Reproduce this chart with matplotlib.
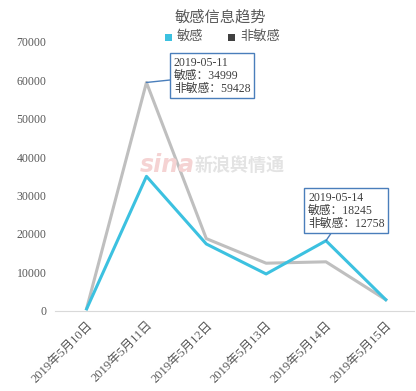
import matplotlib.pyplot as plt
from matplotlib.patches import Rectangle

plt.rcParams['font.family'] = ['Liberation Serif', 'Noto Sans CJK SC']

# data
dates = ['2019年5月10日', '2019年5月11日', '2019年5月12日',
         '2019年5月13日', '2019年5月14日', '2019年5月15日']
sensitive = [500, 34999, 17400, 9600, 18245, 2900]
non_sensitive = [600, 59428, 18800, 12400, 12758, 2900]
yticks = [0, 10000, 20000, 30000, 40000, 50000, 60000, 70000]

fig = plt.figure(figsize=(4.16, 3.91), dpi=100)
ax = fig.add_axes([0.132, 0.205, 0.863, 0.688])

x = range(len(dates))
ax.plot(x, non_sensitive, color='#BFBFBF', lw=2.2, label='非敏感')
ax.plot(x, sensitive, color='#3CC1E0', lw=2.2, label='敏感')

ax.set_xlim(-0.53, 5.47)
ax.set_ylim(0, 70000)
ax.set_yticks(yticks)
ax.set_yticklabels([str(v) for v in yticks], fontsize=8.5, color='#595959')
ax.set_xticks(list(x))
ax.set_xticklabels(dates, rotation=45, ha='right', rotation_mode='anchor',
                   fontsize=9, color='#595959')
ax.tick_params(length=0, pad=6)
for s in ['top', 'right', 'left']:
    ax.spines[s].set_visible(False)
ax.spines['bottom'].set_color('#D9D9D9')

# title and legend
fig.text(0.53, 0.955, '敏感信息趋势', ha='center', va='center',
         fontsize=11, color='#595959')
fig.patches.append(Rectangle((165 / 416, 1 - 41 / 391), 7 / 416, 7 / 391,
                             transform=fig.transFigure, fc='#3CC1E0', ec='none'))
fig.text(177 / 416, 1 - 37 / 391, '敏感', ha='left', va='center', fontsize=9.5, color='#595959')
fig.patches.append(Rectangle((228 / 416, 1 - 41 / 391), 7 / 416, 7 / 391,
                             transform=fig.transFigure, fc='#404040', ec='none'))
fig.text(240 / 416, 1 - 37 / 391, '非敏感', ha='left', va='center', fontsize=9.5, color='#595959')

# watermark
fig.text(140 / 416, 1 - 165 / 391, 'sina', fontsize=17, color='#F5D3D3', style='italic',
         fontweight='bold', va='center', family='DejaVu Sans')
fig.text(195 / 416, 1 - 165 / 391, '新浪舆情通', fontsize=13, color='#E3E3E3',
         fontweight='bold', va='center', family='Noto Sans CJK SC')

# annotations
box = dict(boxstyle='square,pad=0.3', fc='white', ec='#4A7EBB', lw=1)
ax.annotate('2019-05-11\n敏感：{}\n非敏感：{}'.format(sensitive[1], non_sensitive[1]),
            xy=(1, non_sensitive[1]), xytext=(1.46, 56300),
            fontsize=8.5, color='#404040', bbox=box, va='bottom', ha='left',
            linespacing=1.1,
            arrowprops=dict(arrowstyle='-', color='#4A7EBB', lw=1,
                            shrinkA=0, shrinkB=0))
ax.annotate('2019-05-14\n敏感：{}\n非敏感：{}'.format(sensitive[4], non_sensitive[4]),
            xy=(4, sensitive[4]), xytext=(3.7, 21100),
            fontsize=8.5, color='#404040', bbox=box, va='bottom', ha='left',
            linespacing=1.1,
            arrowprops=dict(arrowstyle='-', color='#4A7EBB', lw=1,
                            shrinkA=0, shrinkB=0))

fig.savefig('out.png', dpi=100)
